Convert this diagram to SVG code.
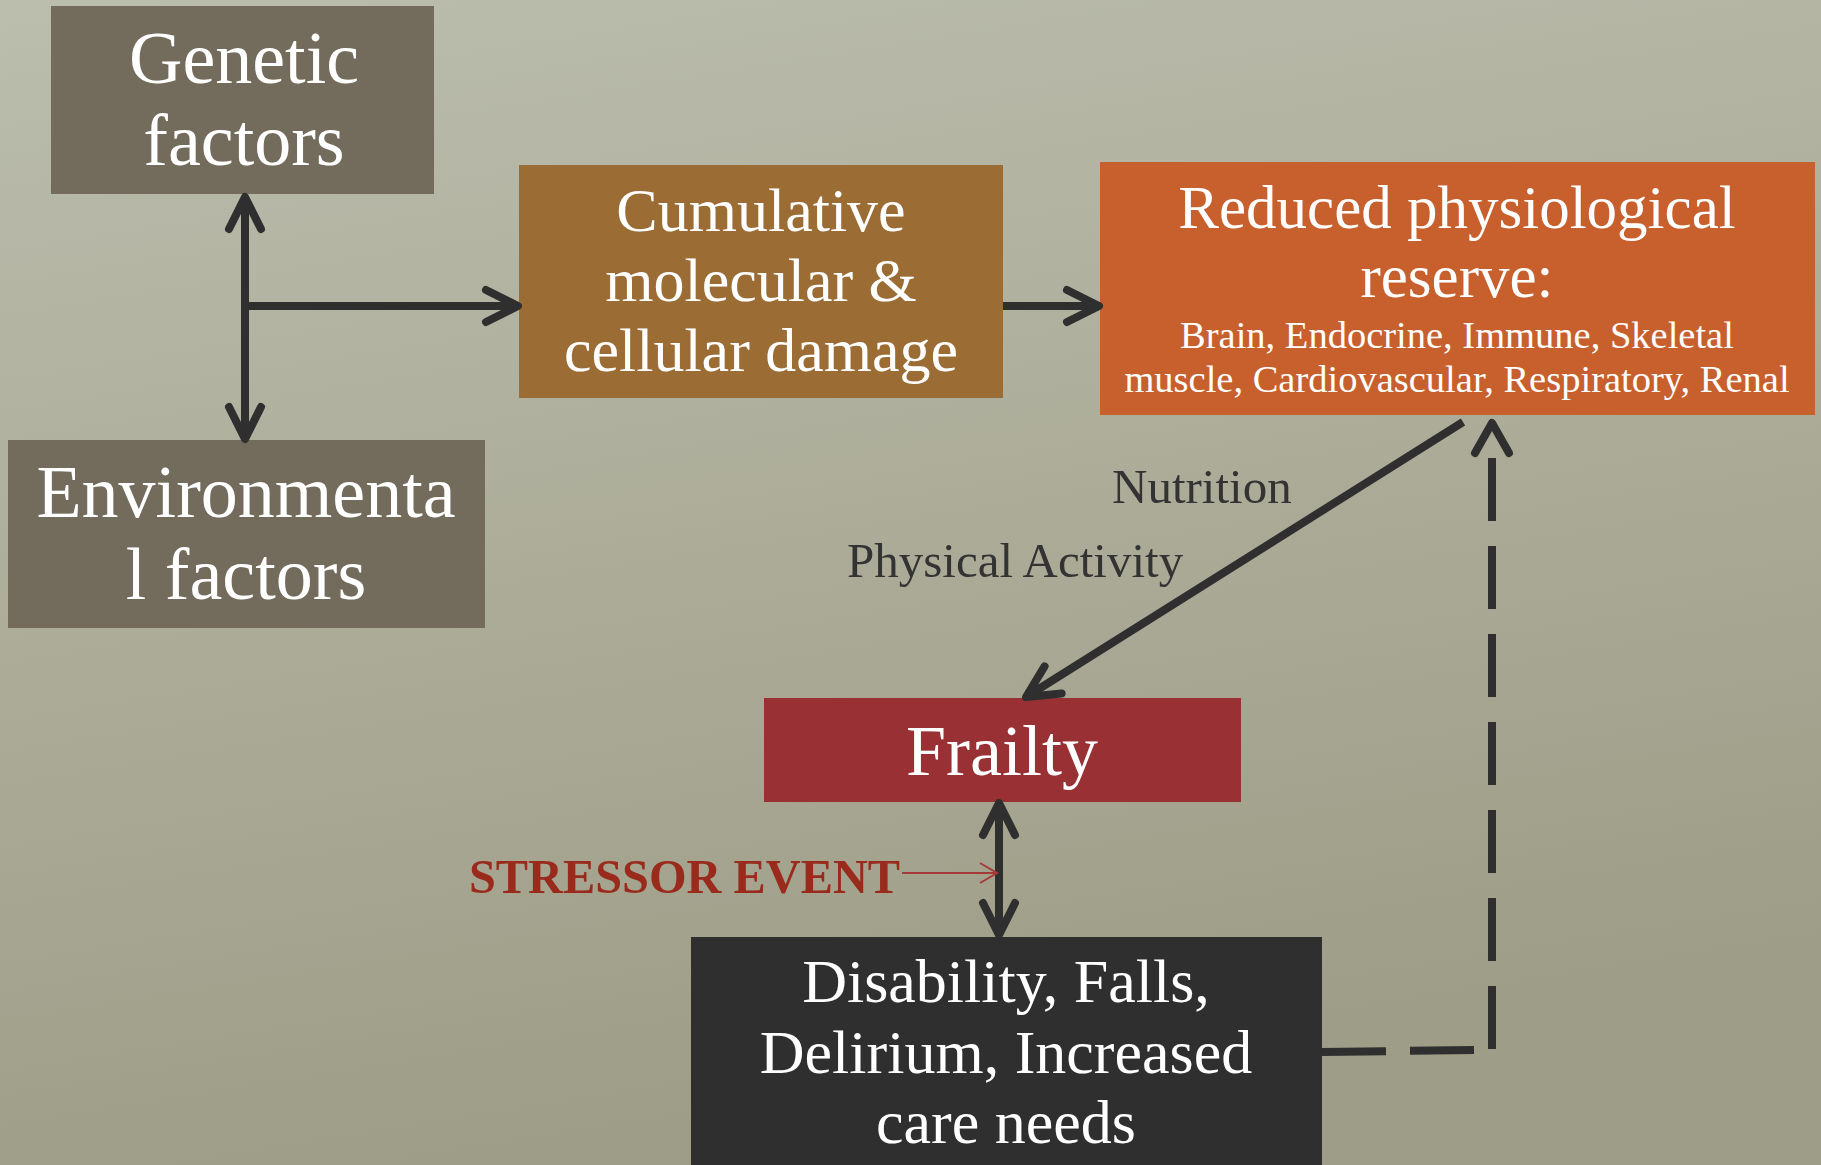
<svg xmlns="http://www.w3.org/2000/svg" width="1821" height="1165" viewBox="0 0 1821 1165">
<defs>
<linearGradient id="bg" x1="0" y1="0" x2="0.25" y2="1">
<stop offset="0" stop-color="#bbbdad"/>
<stop offset="1" stop-color="#9e9d87"/>
</linearGradient>
<marker id="chev" markerUnits="userSpaceOnUse" markerWidth="80" markerHeight="80" refX="0" refY="0" viewBox="-40 -40 80 80" orient="auto" overflow="visible">
<path d="M-32,-16 L0,0 L-32,16" fill="none" stroke="#2f2f2f" stroke-width="8" stroke-linecap="round" stroke-linejoin="round"/>
</marker>
<marker id="chevs" markerUnits="userSpaceOnUse" markerWidth="80" markerHeight="80" refX="0" refY="0" viewBox="-40 -40 80 80" orient="auto-start-reverse" overflow="visible">
<path d="M-32,-16 L0,0 L-32,16" fill="none" stroke="#2f2f2f" stroke-width="8" stroke-linecap="round" stroke-linejoin="round"/>
</marker>
<marker id="chevr" markerUnits="userSpaceOnUse" markerWidth="40" markerHeight="40" refX="0" refY="0" viewBox="-20 -20 40 40" orient="auto" overflow="visible">
<path d="M-17,-10 L0,0 L-17,10" fill="none" stroke="#a63a38" stroke-width="2"/>
</marker>
</defs>
<style>
.box{stroke:none}
.t{font-family:"Liberation Serif","Times New Roman",serif;fill:#ffffff;text-anchor:middle}
.lbl{font-family:"Liberation Serif","Times New Roman",serif;fill:#333333;font-size:49px}
.ln{fill:none;stroke:#2f2f2f;stroke-width:8}
</style>
<rect x="0" y="0" width="1821" height="1165" fill="url(#bg)"/>

<g id="genetic">
<rect class="box" x="51" y="6" width="383" height="188" fill="#736b5b"/>
<text class="t" x="244" y="83" font-size="74">Genetic</text>
<text class="t" x="244" y="165" font-size="74">factors</text>
</g>

<g id="environmental">
<rect class="box" x="8" y="440" width="477" height="188" fill="#736b5b"/>
<text class="t" x="246" y="517" font-size="74">Environmenta</text>
<text class="t" x="246" y="599" font-size="74">l factors</text>
</g>

<g id="cumulative">
<rect class="box" x="519" y="165" width="484" height="233" fill="#9b6d35"/>
<text class="t" x="761" y="231" font-size="62">Cumulative</text>
<text class="t" x="761" y="301" font-size="62">molecular &amp;</text>
<text class="t" x="761" y="371" font-size="62">cellular damage</text>
</g>

<g id="reduced">
<rect class="box" x="1100" y="162" width="715" height="253" fill="#c8602e"/>
<text class="t" x="1457" y="228" font-size="61">Reduced physiological</text>
<text class="t" x="1457" y="297" font-size="61">reserve:</text>
<text class="t" x="1457" y="348" font-size="38.5">Brain, Endocrine, Immune, Skeletal</text>
<text class="t" x="1457" y="392" font-size="38.5">muscle, Cardiovascular, Respiratory, Renal</text>
</g>

<g id="frailty">
<rect class="box" x="764" y="698" width="477" height="104" fill="#993134"/>
<text class="t" x="1002" y="775" font-size="72">Frailty</text>
</g>

<g id="disability">
<rect class="box" x="691" y="937" width="631" height="228" fill="#2f2f2f"/>
<text class="t" x="1006" y="1002" font-size="62">Disability, Falls,</text>
<text class="t" x="1006" y="1073" font-size="62">Delirium, Increased</text>
<text class="t" x="1006" y="1143" font-size="62">care needs</text>
</g>

<g id="connectors">
<path class="ln" d="M245,197 L245,439" marker-start="url(#chevs)" marker-end="url(#chevs)"/>
<path class="ln" d="M245,306 L518,306" marker-end="url(#chev)"/>
<path class="ln" d="M1003,306 L1099,306" marker-end="url(#chev)"/>
<path class="ln" d="M1463,422 L1026,697" marker-end="url(#chev)"/>
<path class="ln" d="M999,803 L999,935" marker-start="url(#chevs)" marker-end="url(#chevs)"/>
<path d="M902,873 L997,873" fill="none" stroke="#a63a38" stroke-width="2" marker-end="url(#chevr)"/>
<path class="ln" d="M1322,1052 L1474,1050" stroke-dasharray="64 24"/>
<path class="ln" d="M1492,1049 L1492,458" stroke-dasharray="63 25"/>
<path d="M1475,453 L1492,423 L1509,453" fill="none" stroke="#2f2f2f" stroke-width="8" stroke-linecap="round" stroke-linejoin="round"/>
</g>

<g id="labels">
<text class="lbl" x="1112" y="503">Nutrition</text>
<text class="lbl" x="847" y="577">Physical Activity</text>
<text x="469" y="893" font-family="'Liberation Serif','Times New Roman',serif" font-weight="bold" font-size="48" textLength="431" lengthAdjust="spacingAndGlyphs" fill="#992a1c">STRESSOR EVENT</text>
</g>
</svg>
